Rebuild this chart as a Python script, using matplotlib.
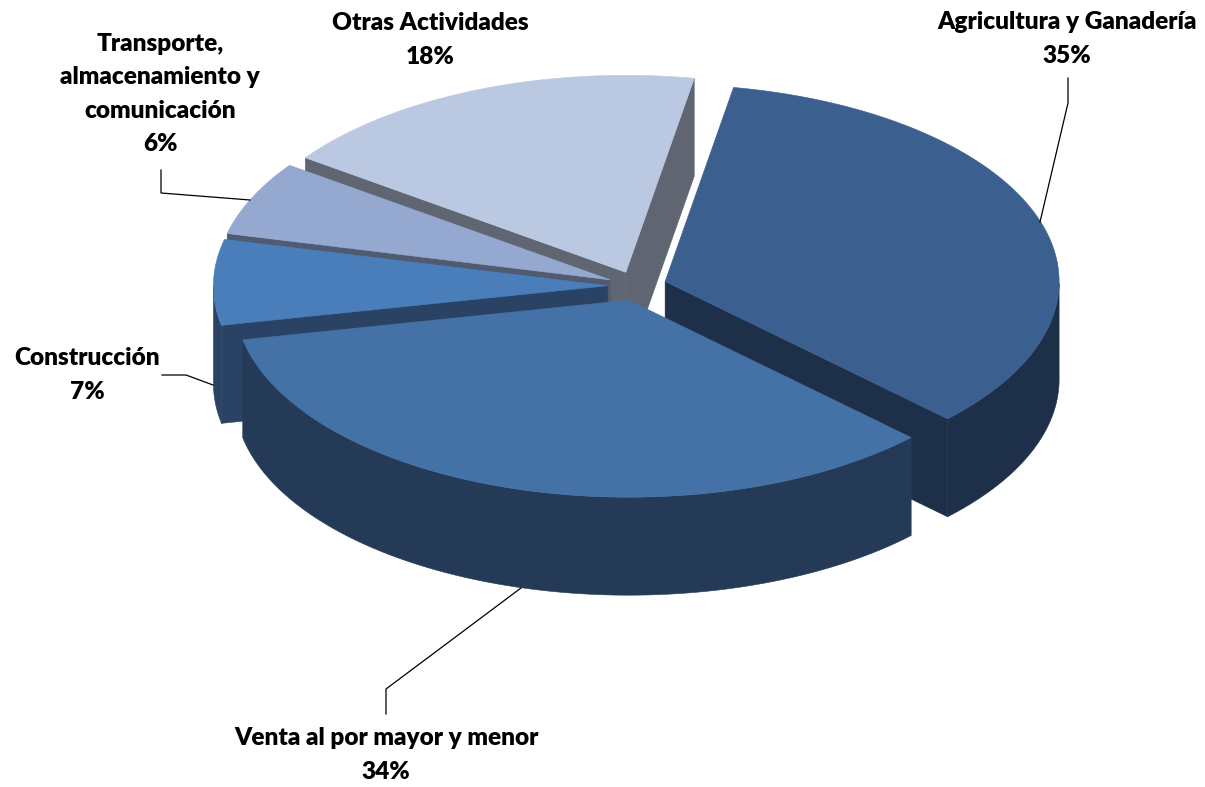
"""Exploded 3D-style pie of activity shares, drawn as projected polygons."""
import numpy as np
import matplotlib
matplotlib.use("Agg")
import matplotlib.pyplot as plt
from matplotlib.patches import Polygon

categories = ["Agricultura y Ganadería", "Venta al por mayor y menor", "Construcción",
              "Transporte,\nalmacenamiento y\ncomunicación", "Otras Actividades"]
# slice sizes; the printed labels are rounded
shares = [34.5, 34.5, 7, 6.1, 17.9]
share_labels = ["35%", "34%", "7%", "6%", "18%"]
top_colors = ["#3B5F8E", "#4472A6", "#4A7EBB", "#94A8D0", "#BAC8E1"]
side_colors = ["#1E3049", "#243A56", "#2A4364", "#505A70", "#5F6672"]

# draw order, back to front
draw_order = [4, 3, 2, 0, 1]

label_pos = [(1067, 39), (386, 755), (87, 375), (160, 94), (430, 40)]
leaders = [
    [(1040, 222), (1068, 103), (1068, 78)],
    [(521, 588), (386, 689), (386, 714)],
    [(213, 385), (186, 375), (162, 375)],
    [(250, 200), (161, 193), (161, 170)],
]

CX, CY = 637, 286
RX, RY = 394, 197
DEPTH = 98
EXPLODE = 0.075
START = 80.0

fig = plt.figure(figsize=(12.05, 7.87), dpi=100)
ax = fig.add_axes([0, 0, 1, 1])
ax.set_xlim(0, 1205)
ax.set_ylim(787, 0)
ax.axis("off")


def rim(cx, cy, t):
    return np.column_stack([cx + RX * np.cos(t), cy - RY * np.sin(t)])


def wall(top_edge, color, z):
    pts = np.vstack([top_edge, (top_edge + [0, DEPTH])[::-1]])
    ax.add_patch(Polygon(pts, closed=True, fc=color, ec=color, lw=0.4, zorder=z))


edges = START - np.cumsum([0] + shares) * 3.6
for z, i in enumerate(draw_order):
    t1, t2 = np.radians(edges[i]), np.radians(edges[i + 1])
    mid = (t1 + t2) / 2
    cx = CX + EXPLODE * RX * np.cos(mid)
    cy = CY - EXPLODE * RY * np.sin(mid)
    apex = np.array([[cx, cy]])
    zb = z * 10 + 1

    # cut faces, only those turned towards the viewer
    if np.cos(t1) < 0:
        wall(np.vstack([apex, rim(cx, cy, np.array([t1]))]), side_colors[i], zb)
    if np.cos(t2) > 0:
        wall(np.vstack([apex, rim(cx, cy, np.array([t2]))]), side_colors[i], zb)

    # outer wall, front half of the rim only
    ts = np.linspace(t1, t2, 200)
    front = ts[np.sin(ts) <= 0]
    if len(front) > 1:
        wall(rim(cx, cy, front), side_colors[i], zb + 1)

    top = np.vstack([apex, rim(cx, cy, ts)])
    ax.add_patch(Polygon(top, closed=True, fc=top_colors[i], ec=top_colors[i], lw=0.4, zorder=zb + 2))

for pts in leaders:
    xs, ys = zip(*pts)
    ax.plot(xs, ys, color="black", lw=0.9, zorder=100, solid_joinstyle="miter")

for name, share, (x, y) in zip(categories, share_labels, label_pos):
    ax.text(x, y, f"{name}\n{share}", ha="center", va="center", family="Lato", weight="heavy",
            fontsize=17.6, linespacing=1.62, color="black", zorder=101)

fig.savefig("out.png", dpi=100)
